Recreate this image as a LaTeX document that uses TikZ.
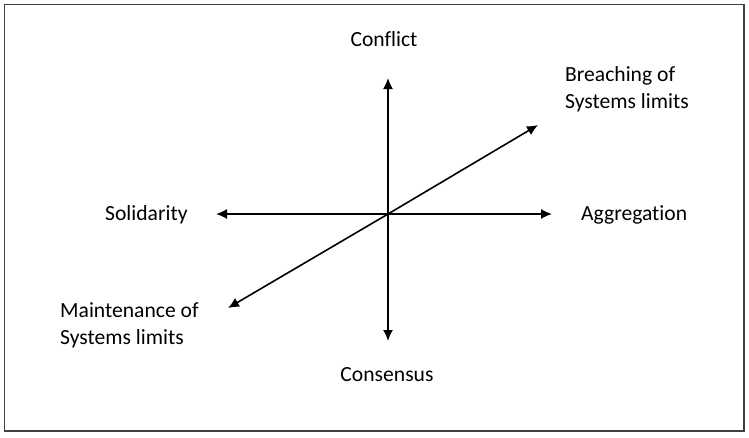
\documentclass[tikz,border=0pt]{standalone}
\usepackage{fontspec}
\setmainfont{Carlito}[Ligatures={NoCommon}]
\usetikzlibrary{arrows.meta}
\begin{document}
\begin{tikzpicture}[x=1pt,y=-1pt,
  axis/.style={line width=1.6pt,-{Latex[length=11pt,width=10pt]}},
  lbl/.style={font=\fontsize{21.6}{27}\selectfont,inner sep=0pt},
  lbl2/.style={lbl,align=left,anchor=west}]
\useasboundingbox (0,0) rectangle (749,437);
\draw[line width=1.6pt,draw=black!75] (4.5,4.5) rectangle (744,431);
\coordinate (c) at (388,214);
\coordinate (up) at (388,78);
\coordinate (down) at (388,341);
\coordinate (left) at (216,214);
\coordinate (right) at (552,214);
\coordinate (ne) at (538,125);
\coordinate (sw) at (228,308);
\draw[axis] (c) -- (up);
\draw[axis] (c) -- (down);
\draw[axis] (c) -- (left);
\draw[axis] (c) -- (right);
\draw[axis] (c) -- (ne);
\draw[axis] (c) -- (sw);
\node[lbl] (conflict) at (384,39) {Conflict};
\node[lbl] (consensus) at (387,375) {Consensus};
\node[lbl,anchor=west] (solidarity) at (105,215) {Solidarity};
\node[lbl,anchor=west] (aggregation) at (581,215) {Aggregation};
\node[lbl2] (breach) at (565,89) {Breaching of\\Systems limits};
\node[lbl2] (maint) at (60,325) {Maintenance of\\Systems limits};
\end{tikzpicture}
\end{document}
